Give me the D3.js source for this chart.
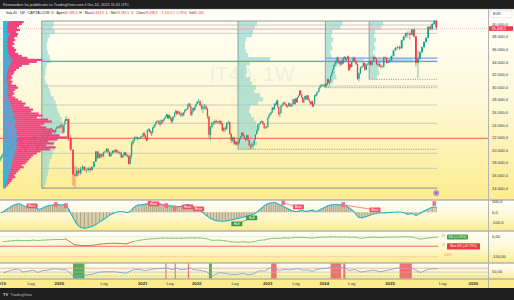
<!DOCTYPE html>
<html><head><meta charset="utf-8">
<script src="https://cdn.jsdelivr.net/npm/d3@7"></script>
<style>html,body{margin:0;padding:0;background:#1e1e1e;}svg{display:block;font-family:"Liberation Sans",Arial,sans-serif;}</style>
</head><body><svg id="c" width="514" height="300"></svg>
<script>
// ===== DATA =====
const firstOpen = 18600;
const closes = [
18950,19250,19600,19550,19450,19150,19800,20300,20500,20400,21000,20900,21300,21600,21700,21950,21350,21650,20550,20700,20400,19950,20500,20800,21350,21250,22100,22000,22100,22200,21000,20300,20350,20850,21300,21750,22100,22200,21950,21500,22150,22450,22800,22900,23500,23400,23150,23000,23000,23450,23750,23800,
23650,23850,24050,23750,22900,24150,24700,25000,21980,20140,16200,16000,16800,16400,17050,17400,16900,16900,17150,16900,17400,18200,19850,18800,19450,19050,19700,19850,20250,19800,19100,19550,19950,19800,20100,19700,19700,19650,18900,19200,19700,19250,19050,17900,19200,21100,21600,22050,22100,21850,22000,22150,
22250,22750,22350,22050,21600,23300,23350,23000,22850,22800,23650,23800,24100,24550,24600,24700,24250,24150,24800,24650,24800,25100,25400,25700,25150,25600,25250,24950,24650,25250,25300,26000,26300,25850,26150,26100,25700,25750,25900,25600,26050,26450,26550,26550,27300,27450,26950,25650,26200,26750,26450,26950,27350,
27750,27800,27150,26650,26900,27000,26550,25400,22500,23750,24400,24350,24700,24600,24450,24700,24300,23200,23550,23400,24400,24450,22600,21600,22050,21050,21350,20950,21250,21950,22200,22800,22400,21850,21700,22400,21650,20800,20650,20700,20950,21700,22550,23100,24150,24250,24550,24650,24250,23650,23650,23700,
25200,25600,25850,26050,26800,26550,27400,27300,27900,26900,25800,25950,27100,27250,27600,27500,27300,27100,27050,27500,27100,27050,27450,28100,27350,28250,27650,28450,28700,29500,28900,28450,27650,28150,28650,28100,28750,28100,27750,27400,27800,27000,27350,28800,28750,29200,29350,29900,30250,30400,30300,30350,
30450,30300,30500,31300,30800,31000,31850,32300,32850,33500,33700,34250,34750,33900,34000,33650,34250,33800,34700,34850,34350,34550,34900,32800,33650,33250,34150,34700,34100,33700,31400,32250,33150,33350,33900,32800,33600,33800,34250,33600,34200,34850,34550,33700,33700,33450,33300,33300,34800,34700,33900,34250,
34300,35000,35900,36300,36450,36200,37500,38100,38650,38550,38350,39200,38100,33900,34600,35600,36400,37250,37900,39650,39300,40100,40589.5,39498.5];
const highs = [
19050,19350,19700,19750,19700,19500,19850,20400,20650,20600,21100,21200,21400,21700,21800,22050,22000,21750,21700,20900,20950,20550,20600,20900,21450,21500,22150,22150,22250,22300,22350,21100,20700,20950,21400,21800,22200,22300,22250,22000,22250,22550,22900,22950,23550,23650,23450,23300,23250,23500,23800,23900,
23900,24000,24300,24150,23800,24250,24800,25480,25100,22400,20100,17500,17400,17250,17400,17700,17500,17250,17400,17400,17500,18350,19950,19900,19600,19500,19850,20000,20400,20300,19850,19700,20050,20150,20250,20200,19950,19950,19800,19300,19800,19750,19500,19300,19350,21450,21800,22200,22300,22200,22100,22300,
22400,22850,22950,22600,22200,23400,23500,23550,23250,23100,23750,24050,24200,24600,24750,24800,24800,24450,24900,24950,24900,25200,25500,25800,25800,25700,25700,25450,25200,25350,25450,26050,26450,26350,26250,26300,26200,25900,26000,26000,26100,26500,26650,26650,27350,27550,27500,27050,26300,26800,26850,27000,27400,
27800,28200,28000,27400,27300,27400,27300,26800,25500,23900,24600,24700,24900,24900,24700,24800,24750,24400,23700,23900,24450,24750,24600,22800,22200,22200,21600,21500,21400,22000,22300,22900,22900,22500,22000,22500,22450,21700,20950,21300,21050,21800,22600,23300,24200,24400,24700,24800,24700,24350,23900,23900,
25250,25750,26000,26150,26900,26900,27500,27600,28000,28100,27000,26200,27200,27400,27700,27750,27650,27350,27200,27600,27600,27300,27500,28200,28150,28300,28300,28500,28800,29600,29600,28950,28500,28300,28700,28750,28800,28800,28200,27800,27900,27900,27500,28850,28950,29300,29450,29950,30300,30600,30500,30500,
30600,30600,30700,31400,31400,31100,31900,32400,32900,33600,34000,34350,34800,34950,34350,34200,34400,34300,34800,35000,34900,34700,35100,34950,33800,33800,34200,34900,34900,34300,33800,32400,33300,33500,34000,34000,33700,33950,34300,34300,34300,34950,34900,34600,34200,34000,33700,33500,34900,34950,34750,34300,
34400,35100,36000,36450,36600,36700,37600,38200,38750,38900,38900,39300,39400,38200,35900,35800,36500,37300,38000,39700,39900,40250,40650,40654.5];
const lows = [
18200,18800,19100,19350,19300,19050,19000,19700,20150,20100,20300,20700,20800,21250,21500,21600,21300,21250,20400,20400,20300,19900,19900,20400,20750,21100,21200,21850,21900,21950,20900,19900,19950,20200,20750,21250,21650,21950,21800,21000,21350,22050,22350,22700,22850,23250,23100,22900,22650,22950,23400,23650,
23450,23500,23700,23400,22700,22850,24100,24700,21500,19900,14400,14150,15800,16000,16100,16800,16700,16350,16650,16600,16800,17300,18200,18600,18700,18850,18950,19600,19700,19600,19000,19000,19400,19550,19600,19600,19400,19400,18800,18800,19100,19150,18900,17750,17800,18700,20800,21450,21800,21650,21700,21950,
21950,22100,22200,21900,21450,21550,23050,22850,22500,22300,22700,23400,23600,23950,24350,24450,24100,23800,24100,24300,24300,24700,25000,25350,25000,24950,25050,24650,24250,24400,24900,25300,25850,25600,25700,25900,25600,25300,25350,25450,25450,25950,26250,26300,26500,27050,26800,25500,25500,26000,26200,26350,26900,
27300,27500,27000,26400,25900,26500,26500,25000,21900,21600,23500,24000,24100,24300,24200,24100,24100,23000,22900,23000,23300,24100,22500,21200,21300,20900,20800,20800,20900,21100,21700,22200,22300,21800,21450,21600,21600,20750,20200,20450,20250,20850,21650,22500,23100,23950,24150,24400,24050,23450,23400,23500,
23650,25100,25450,25650,25950,26400,26500,27100,27200,26800,25500,25300,25950,26900,27150,27300,27050,26800,26800,26950,27000,26900,26950,27400,27300,27300,27600,27600,28400,28600,28800,28300,27550,27600,28100,28000,28000,28000,27650,27250,27250,26950,26850,27300,28550,28600,29050,29300,29800,30000,30150,30150,
30000,30100,30150,30400,30700,30500,30900,31800,32200,32800,33350,33600,34200,33800,33700,33400,33500,33600,33750,34600,34200,34200,34500,32600,32700,33100,33200,34100,34050,33600,31200,30950,32100,33000,33300,32700,32700,33500,33600,33450,33500,34150,34450,33600,33400,33250,33000,33100,33200,34500,33800,33850,
33900,34100,34900,35800,36050,35900,36150,37400,37800,37900,37600,38300,37900,33300,31500,34300,35400,36300,37100,37800,39000,39100,39950,39186.5];

// oscillator (every 2 weeks)
const osc = [
-30,20,90,170,240,300,350,390,400,360,290,260,300,330,320,250,160,140,180,230,270,300,320,340,350,360,
360,340,360,380,160,-250,-560,-720,-760,-730,-680,-590,-460,-350,-250,-150,-70,-10,20,30,20,-20,30,190,300,350,
350,370,390,410,420,430,430,420,410,380,340,310,300,280,260,250,250,260,270,290,320,350,360,330,260,220,200,
120,30,-80,-200,-300,-360,-400,-420,-430,-420,-400,-370,-340,-310,-280,-250,-220,-200,-170,-130,-80,0,100,200,300,380,
430,450,460,450,400,350,300,250,200,150,110,60,30,40,80,100,70,40,60,80,100,60,40,90,150,200,
250,300,330,350,360,370,360,350,340,320,280,220,150,60,-100,-250,-270,-230,-180,-130,-90,-60,-40,-30,-30,-20,
-10,0,10,-20,-100,-60,-150,-60,60,150,230,250];
// signals on oscillator
const sigDates = ["2019-07-08","2019-12-09","2020-02-17","2021-02-15","2021-03-15","2021-06-07","2021-08-02","2021-11-01","2022-01-10","2022-07-11","2022-10-03","2023-04-10","2023-07-17","2024-05-06","2024-10-21","2025-06-02"];
const sigVals  = [300,350,300,440,400,300,160,250,160,-560,-270,440,250,350,110,400];
const sigTypes = ["Bear","b","b","b","Bear","b","b","Bear","Bear","Bull","Bull","b","Bear","b","Bear","b"];
const divPairs = [[3,8],[11,12],[13,14],[9,10]];

// drawdown % (monthly, Jan 2019 - Jun 2025)
const drawdown = [
-24,-22,-20,-18,-19,-20,-17,-19,-17,-16,-15,-14,
-14,-12,-40,-45,-44,-38,-34,-33,-34,-36,-25,-18,
-14,-11,-10,-8,-7,-7,-8,-7,-8,-7,-6,-6,
-6,-10,-18,-17,-20,-26,-28,-25,-28,-25,-18,-16,
-10,-8,-9,-6,-7,-5,-3,-4,-5,-7,-4,-2,
-2,-1,-1,-2,-1,-3,-2,-8,-4,-2,-4,-2,
-2,-1,-1,-12,-6,-1.9];
const maxDD = -47.75, curDD = -1.91;

// RSI (monthly)
const rsi = [
45,55,62,66,50,55,60,48,58,60,66,67,
62,64,25,33,38,50,52,52,48,44,62,64,
58,62,66,68,68,71,62,71,62,65,71,62,
60,52,29,47,44,38,38,44,36,42,57,55,
72,71,58,64,62,64,68,60,62,54,64,68,
69,74,79,72,73,58,64,50,56,60,52,58,
68,74,72,48,66,68];
const obRanges = [["2021-05-31","2021-06-07"],["2021-08-02","2021-08-09"],["2021-11-01","2021-11-08"],["2023-01-23","2023-02-27"],["2024-02-12","2024-04-22"],["2024-05-06","2024-05-20"],["2025-02-03","2025-03-17"]];
const osRanges = [["2020-03-09","2020-04-20"],["2022-02-28","2022-03-14"]];

// price levels
const levelLines = [39920,39240,38600,30240,27220,24320,19560,17170];
const redLevel = 21940;
const pocLevels = [34150,34650];
// profile boxes: start date, low, high
const boxStarts = ["2019-09-09","2022-07-18","2024-01-08","2024-09-23"];
const boxLows   = [14030,20190,29970,31300];
const boxHigh   = 40555;
const prof1 = [12,11,13,8,6,5,5,6,8,9,5,4,4,3,4,6,8,9,12,14,15,16,18,20,21,19,22,18,14,12,13,11,10,8,7,7,6,5,4,3];
const prof2 = [19,17,15,14,8,7,7,8,10,32,12,8,9,8,12,14,18,16,22,25,20,12,11,13,16,18,22,20,17,15,19,14];
const prof3 = [17,15,7,6,8,6,7,5,6,38,12,9,10,11,8,5];
const prof4 = [14,12,6,5,7,5,6,4,6,44,11,9,10,8];
// left visible-range profile (top -> bottom): total and up volume
const vpTotal = [22,20,17,15,18,14,16,15,12,13,11,12,10,12,14,13,16,20,26,42,36,28,20,17,14,12,11,9,10,8,10,9,14,16,13,11,12,10,13,16,20,24,22,28,32,30,38,42,36,48,52,44,40,46,50,56,52,60,68,58,48,54,46,56,50,40,36,32,30,28,26,24,20,22,18,16,14,12,13,10,9,7,5,3];
const vpUp    = [6,5,5,4,5,4,7,6,5,5,4,5,4,5,5,5,6,7,8,10,9,8,7,6,5,5,4,4,4,3,4,4,5,6,5,5,5,4,5,6,7,8,8,9,10,10,11,12,11,13,14,13,12,13,14,15,14,15,16,15,14,15,14,15,14,13,12,12,11,11,10,10,9,9,8,8,7,6,6,5,5,4,3,2];

// axis
const priceTicks = [40000,38000,36000,34000,32000,30000,28000,26000,24000,22000,20000,18000,16000,14000];
const timeTicks = ["2019-01-01","2019-07-01","2020-01-01","2020-07-01","2021-01-01","2021-07-01","2022-01-01","2022-07-01","2023-01-01","2023-07-01","2024-01-01","2024-07-01","2025-01-01","2025-07-01","2026-01-01"];
const timeLabels = ["2019","Lug","2020","Lug","2021","Lug","2022","Lug","2023","Lug","2024","Lug","2025","Lug","2026"];

// ===== LAYOUT =====
const P = d3.timeParse("%Y-%m-%d");
const loc = d3.formatLocale({decimal:",",thousands:".",grouping:[3],currency:["","€"],minus:"-"});
const f1 = loc.format(",.1f"), f2 = loc.format(",.2f");
const svg = d3.select("#c");
const AX = 488;
const panes = {main:[9,200], p1:[200,231], p2:[231,263], p3:[263,279], xa:[279,288]};

const x = d3.scaleTime()
  .domain(["2019-01-01","2019-07-01","2020-01-01","2020-02-17","2020-03-09","2020-07-01","2021-01-01","2021-07-01","2022-01-01","2022-07-01","2023-01-01","2023-07-01","2024-01-01","2024-07-01","2025-01-01","2025-07-01","2026-01-01"].map(P))
  .range([1,31,59.3,66,73,104,142.7,170,196.7,235,267.7,296,324.3,351.7,390,442.7,473.3]);
const y = d3.scaleLinear().domain([14000,40000]).range([188.3,24.5]);
const yo = d3.scaleLinear().domain([-500,500]).range([222.7,201.7]);
const yd = d3.scaleLinear().domain([-100,0]).range([256.7,236.7]);
const yr = d3.scaleLinear().domain([0,100]).range([281.7,262.5]);

const dates = d3.timeMonday.range(new Date(2018,11,31), new Date(2025,5,10)).slice(0, closes.length);
const N = dates.length;
const opens = closes.map((c,i)=> i===0 ? firstOpen : closes[i-1]);

const defs = svg.append("defs");
const g = defs.append("linearGradient").attr("id","bg").attr("x1",0).attr("y1",0).attr("x2",0).attr("y2",1);
g.append("stop").attr("offset","0%").attr("stop-color","#fffffa");
g.append("stop").attr("offset","50%").attr("stop-color","#fef8d6");
g.append("stop").attr("offset","100%").attr("stop-color","#fcec8e");
for (const k of ["main","p1","p2","p3"]) {
  defs.append("clipPath").attr("id","cl_"+k).append("rect").attr("x",0).attr("y",panes[k][0]).attr("width",AX).attr("height",panes[k][1]-panes[k][0]);
}

// background
svg.append("rect").attr("width",514).attr("height",300).attr("fill","#1e1e1e");
for (const k of ["main","p1","p2","p3"]) {
  svg.append("rect").attr("x",0).attr("y",panes[k][0]).attr("width",514).attr("height",panes[k][1]-panes[k][0]).attr("fill","url(#bg)");
}
svg.append("rect").attr("x",0).attr("y",279).attr("width",514).attr("height",9).attr("fill","#fcec8c");

// header
svg.append("text").attr("x",3).attr("y",6).attr("font-size",3.9).attr("fill","#d8d8d8")
  .text("Kenwardozi ha pubblicato su TradingView.com il Giu 14, 2025 11:41 UTC");

// ===== MAIN PANE =====
const M = svg.append("g").attr("clip-path","url(#cl_main)");
const xEnd = x(dates[N-1]) + 1;

// watermark
M.append("text").attr("x",252).attr("y",81).attr("text-anchor","middle").attr("font-size",21).attr("fill","#dfe5d2").attr("fill-opacity",0.55).text("IT40, 1W");
M.append("text").attr("x",248).attr("y",93).attr("text-anchor","middle").attr("font-size",8).attr("fill","#dfe5d2").attr("fill-opacity",0.55).text("Italy 40");

// level lines
M.selectAll(".lvl").data(levelLines).join("line")
  .attr("x1",x(P(boxStarts[0]))).attr("x2",xEnd).attr("y1",d=>y(d)).attr("y2",d=>y(d))
  .attr("stroke","#c9c6b4").attr("stroke-width",0.9);

// box profiles
const profs = [prof1,prof2,prof3,prof4];
const pw = d3.scaleLinear().domain([0,44]).range([0,44]);
profs.forEach((pr,bi)=>{
  const x0 = x(P(boxStarts[bi]));
  const step = (boxHigh - boxLows[bi]) / pr.length;
  M.selectAll(".bp"+bi).data(pr).join("rect")
    .attr("x",x0).attr("y",(d,i)=>y(boxHigh - i*step))
    .attr("width",d=>pw(d)).attr("height",(d,i)=>y(boxHigh-(i+1)*step)-y(boxHigh-i*step)+0.2)
    .attr("fill","#86d3cb").attr("fill-opacity",0.6);
  M.append("line").attr("x1",x0).attr("x2",x0).attr("y1",y(boxHigh)).attr("y2",y(boxLows[bi]))
    .attr("stroke",bi===0?"#8e9290":"#7f9c99").attr("stroke-width",0.9);
});
M.append("line").attr("x1",x(P(boxStarts[0]))).attr("x2",xEnd).attr("y1",y(boxHigh)).attr("y2",y(boxHigh)).attr("stroke","#9a9a94").attr("stroke-width",1);
M.append("line").attr("x1",x(P(boxStarts[0]))).attr("x2",xEnd).attr("y1",y(boxLows[0])).attr("y2",y(boxLows[0])).attr("stroke","#8e8e88").attr("stroke-width",1);
for (let bi=1; bi<4; bi++) {
  M.append("line").attr("x1",x(P(boxStarts[bi]))).attr("x2",xEnd).attr("y1",y(boxLows[bi])).attr("y2",y(boxLows[bi]))
    .attr("stroke","#8a8a80").attr("stroke-width",0.8).attr("stroke-dasharray","1.2,1.2");
}
M.append("line").attr("x1",0).attr("x2",AX).attr("y1",y(redLevel)).attr("y2",y(redLevel)).attr("stroke","#f27a68").attr("stroke-width",1.3);
M.append("line").attr("x1",x(P(boxStarts[0]))).attr("x2",xEnd).attr("y1",y(pocLevels[0])).attr("y2",y(pocLevels[0])).attr("stroke","#6d93e6").attr("stroke-width",1.2);
M.append("line").attr("x1",x(P(boxStarts[2]))).attr("x2",xEnd).attr("y1",y(pocLevels[1])).attr("y2",y(pocLevels[1])).attr("stroke","#7ba0ea").attr("stroke-width",1.2);
M.append("line").attr("x1",0).attr("x2",AX).attr("y1",y(closes[N-1])+0.8).attr("y2",y(closes[N-1])+0.8).attr("stroke","#f4a0a6").attr("stroke-width",0.6).attr("stroke-dasharray","1,1");

// candles
const cw = dates.map((d,i)=> i<N-1 ? x(dates[i+1])-x(d) : x(d)-x(dates[i-1]));
const cg = M.append("g");
dates.forEach((d,i)=>{
  const up = closes[i] >= opens[i];
  const col = up ? "#12a38a" : "#f23645";
  const cx = x(d);
  const hi = Math.max(highs[i], opens[i], closes[i]);
  const lo = Math.min(lows[i], opens[i], closes[i]);
  cg.append("line").attr("x1",cx).attr("x2",cx).attr("y1",y(hi)).attr("y2",y(lo)).attr("stroke",col).attr("stroke-width",0.6);
  const bw = Math.max(1.0, cw[i]*0.88);
  const yt = y(Math.max(opens[i],closes[i])), yb = y(Math.min(opens[i],closes[i]));
  cg.append("rect").attr("x",cx-bw/2).attr("y",yt).attr("width",bw).attr("height",Math.max(0.6,yb-yt)).attr("fill",col);
});

// left visible range volume profile
const vpStep = (boxHigh - boxLows[0]) / vpTotal.length;
const vw = d3.scaleLinear().domain([0,68]).range([0,64]);
const VP = M.append("g");
vpTotal.forEach((t,i)=>{
  const yt = y(boxHigh - i*vpStep), yb = y(boxHigh-(i+1)*vpStep);
  VP.append("rect").attr("x",3).attr("y",yt).attr("width",vw(t)).attr("height",yb-yt+0.15).attr("fill","#f2437f");
  VP.append("rect").attr("x",3).attr("y",yt).attr("width",vw(vpUp[i])).attr("height",yb-yt+0.15).attr("fill","#25c0db");
});

// event icon
M.append("circle").attr("cx",x(dates[N-1])).attr("cy",193).attr("r",2.6).attr("fill","#f48fb1").attr("stroke","#8e6fd0").attr("stroke-width",0.6);
M.append("circle").attr("cx",x(dates[N-1])).attr("cy",193).attr("r",1.1).attr("fill","#3f6fd8");

// legend row
const leg = svg.append("text").attr("x",6).attr("y",14.2).attr("font-size",3.35).attr("fill","#131722");
const legParts = [["Italy 40 · 1W · CAPITALCOM  ","#131722"],["O · Apert","#131722"],["40.589,5","#f23645"],["  H · Max","#131722"],["40.654,5","#f23645"],["  L · Min","#131722"],["39.186,5","#f23645"],["  C · Chius","#131722"],["39.498,5","#f23645"],["  −1.111,0 (−2,74%)","#f23645"],["  Vol","#131722"],["85.164","#f23645"]];
legParts.forEach(p=> leg.append("tspan").attr("fill",p[1]).attr("xml:space","preserve").text(p[0]));

// ===== PANE 1: oscillator =====
const P1 = svg.append("g").attr("clip-path","url(#cl_p1)");
const oDates = dates.filter((d,i)=> i%2===0).slice(0, osc.length);
const oData = oDates.map((d,i)=>({d, v:osc[i]}));
P1.append("path").datum(oData).attr("d", d3.area().x(p=>x(p.d)).y0(yo(0)).y1(p=>yo(p.v)))
  .attr("fill","#b9b195").attr("fill-opacity",0.55);
P1.selectAll(".ob").data(oData).join("line")
  .attr("x1",p=>x(p.d)).attr("x2",p=>x(p.d)).attr("y1",yo(0)).attr("y2",p=>yo(p.v))
  .attr("stroke","#a89d7c").attr("stroke-width",0.9);
P1.append("path").datum(oData).attr("d", d3.line().x(p=>x(p.d)).y(p=>yo(p.v)).curve(d3.curveMonotoneX))
  .attr("fill","none").attr("stroke","#27b6cf").attr("stroke-width",1.1);
divPairs.forEach(([a,b])=>{
  P1.append("line").attr("x1",x(P(sigDates[a]))).attr("x2",x(P(sigDates[b])))
    .attr("y1",yo(sigVals[a])).attr("y2",yo(sigVals[b]))
    .attr("stroke", sigTypes[a]==="Bull" ? "#43a047" : "#f05a5a").attr("stroke-width",0.7);
});
sigDates.forEach((sd,i)=>{
  const cx = x(P(sd)), cy = yo(sigVals[i]);
  const t = sigTypes[i];
  const col = t==="Bull" ? "#3a9a48" : "#f7525f";
  if (t==="b") {
    P1.append("rect").attr("x",cx-1.6).attr("y",cy-2.6).attr("width",3.2).attr("height",4.6).attr("rx",0.5).attr("fill","#f7727d").attr("stroke","#f2545f").attr("stroke-width",0.3);
  } else {
    P1.append("rect").attr("x",cx-5.5).attr("y",cy-2.4).attr("width",11).attr("height",4.8).attr("rx",0.6).attr("fill",col);
    P1.append("text").attr("x",cx).attr("y",cy+1.2).attr("text-anchor","middle").attr("font-size",3.3).attr("fill","#fff").text(t);
  }
});

// ===== PANE 2: drawdown =====
const P2 = svg.append("g").attr("clip-path","url(#cl_p2)");
const months = d3.timeMonth.range(new Date(2019,0,1), new Date(2025,6,1)).map(m=>d3.timeDay.offset(m,14));
const ddData = months.slice(0,drawdown.length).map((d,i)=>({d, v:drawdown[i]}));
P2.append("line").attr("x1",0).attr("x2",x(dates[N-1])+2).attr("y1",yd(maxDD)).attr("y2",yd(maxDD)).attr("stroke","#f2705f").attr("stroke-width",1);
P2.append("line").attr("x1",0).attr("x2",x(dates[N-1])+2).attr("y1",yd(-100)).attr("y2",yd(-100)).attr("stroke","#f6c0a8").attr("stroke-width",0.7);
P2.append("line").attr("x1",0).attr("x2",x(dates[N-1])+2).attr("y1",yd(0)).attr("y2",yd(0)).attr("stroke","#cfe8c8").attr("stroke-width",0.6);
for (let i=0;i<ddData.length-1;i++){
  const a=ddData[i], b=ddData[i+1];
  P2.append("line").attr("x1",x(a.d)).attr("x2",x(b.d)).attr("y1",yd(a.v)).attr("y2",yd(b.v))
    .attr("stroke", Math.min(a.v,b.v) < -30 ? "#b9734f" : "#7fbf74").attr("stroke-width",0.9).attr("stroke-linecap","round");
}
const lx = 447;
svg.append("circle").attr("cx",443.5).attr("cy",yd(curDD)-1.5).attr("r",1.4).attr("fill","#e8f5e0").attr("stroke","#7fbf74").attr("stroke-width",0.4);
svg.append("rect").attr("x",lx).attr("y",yd(curDD)-2.6).attr("width",21).attr("height",5).attr("rx",0.8).attr("fill","#43a047");
svg.append("text").attr("x",lx+10.5).attr("y",yd(curDD)+1.1).attr("text-anchor","middle").attr("font-size",3.2).attr("fill","#fff").text("DD (" + f2(curDD) + "%)");
svg.append("circle").attr("cx",443.5).attr("cy",yd(maxDD)-1.8).attr("r",1.4).attr("fill","#fde7c8").attr("stroke","#f0a040").attr("stroke-width",0.4);
svg.append("rect").attr("x",lx).attr("y",yd(maxDD)-3).attr("width",33).attr("height",6.2).attr("rx",0.8).attr("fill","#f23645");
svg.append("text").attr("x",lx+16.5).attr("y",yd(maxDD)+1.2).attr("text-anchor","middle").attr("font-size",3.2).attr("fill","#fff").text("Max DD (" + f2(maxDD) + "%)");
svg.append("text").attr("x",444).attr("y",255.5).attr("font-size",3).attr("fill","#f09a40").text("100%");

// ===== PANE 3: RSI =====
const P3 = svg.append("g").attr("clip-path","url(#cl_p3)");
const bandG = P3.append("g");
obRanges.forEach(r=> bandG.append("rect").attr("x",x(P(r[0]))).attr("y",263).attr("width",Math.max(1.2,x(P(r[1]))-x(P(r[0])))).attr("height",16).attr("fill","#f4575a").attr("fill-opacity",0.85));
osRanges.forEach(r=> bandG.append("rect").attr("x",x(P(r[0]))).attr("y",263).attr("width",Math.max(1.2,x(P(r[1]))-x(P(r[0])))).attr("height",16).attr("fill","#3fa64a").attr("fill-opacity",0.9));
P3.append("line").attr("x1",0).attr("x2",AX).attr("y1",yr(70)).attr("y2",yr(70)).attr("stroke","#f29a96").attr("stroke-width",0.7);
P3.append("line").attr("x1",0).attr("x2",AX).attr("y1",yr(50)).attr("y2",yr(50)).attr("stroke","#b4b4b4").attr("stroke-width",0.6);
P3.append("line").attr("x1",0).attr("x2",AX).attr("y1",yr(30)).attr("y2",yr(30)).attr("stroke","#8cc97f").attr("stroke-width",0.6).attr("stroke-dasharray","1.5,1.5");
const rData = months.slice(0,rsi.length).map((d,i)=>({d, v:rsi[i]}));
P3.append("path").datum(rData).attr("d", d3.line().x(p=>x(p.d)).y(p=>yr(p.v)))
  .attr("fill","none").attr("stroke","#6aa2dc").attr("stroke-width",0.8);

// ===== separators & axes =====
const sep = svg.append("g").attr("stroke","#b4b4ae");
[200,231,263,279].forEach(v=> sep.append("line").attr("x1",0).attr("x2",514).attr("y1",v).attr("y2",v).attr("stroke-width",1.3));
sep.append("line").attr("x1",AX+0.5).attr("x2",AX+0.5).attr("y1",9).attr("y2",288).attr("stroke-width",1);
svg.append("line").attr("x1",0).attr("x2",514).attr("y1",9.3).attr("y2",9.3).attr("stroke","#c8c8c8").attr("stroke-width",0.6);

// price axis
const pa = svg.append("g").attr("font-size",4.1).attr("fill","#333");
priceTicks.forEach(v=> pa.append("text").attr("x",492).attr("y",y(v)+1.2).text(f1(v)));
svg.append("rect").attr("x",490).attr("y",10.5).attr("width",22).attr("height",7).attr("fill","#fff").attr("stroke","#d0d0d0").attr("stroke-width",0.4);
svg.append("text").attr("x",493).attr("y",15.4).attr("font-size",3.6).attr("fill","#333").text("EUR");
svg.append("rect").attr("x",AX+1).attr("y",y(closes[N-1])-1.4).attr("width",24).attr("height",4.6).attr("fill","#f23645");
svg.append("text").attr("x",491.5).attr("y",y(closes[N-1])+2.1).attr("font-size",3.7).attr("fill","#fff").text(f1(closes[N-1]));
[[500,yo],[0,yo],[-500,yo]].forEach(([v,s])=> svg.append("text").attr("x",492).attr("y",s(v)+1.4).attr("font-size",4.1).attr("fill","#333").text(f1(v)));
[0,-100].forEach(v=> svg.append("text").attr("x",492).attr("y",yd(v)+1.4).attr("font-size",4.1).attr("fill","#333").text(f2(v)));
svg.append("text").attr("x",492).attr("y",yr(50)+1).attr("font-size",4.1).attr("fill","#333").text(f2(50));

// time axis
timeTicks.forEach((t,i)=>{
  svg.append("text").attr("x",x(P(t))).attr("y",285).attr("text-anchor","middle")
    .attr("font-size",4.3).attr("font-weight", timeLabels[i]==="Lug" ? 400 : 700).attr("fill","#333").text(timeLabels[i]);
});

// footer
svg.append("text").attr("x",3).attr("y",296).attr("font-size",4.2).attr("font-weight",700).attr("fill","#cfcfcf").text("TV");
svg.append("text").attr("x",10.5).attr("y",296).attr("font-size",3.9).attr("fill","#bdbdbd").text("TradingView");
</script></body></html>
